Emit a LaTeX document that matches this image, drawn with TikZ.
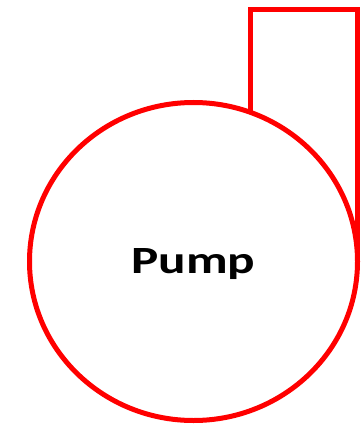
\documentclass[tikz,border=0pt]{standalone}
\usepackage{fontspec}
\setmainfont{Carlito}
\usetikzlibrary{shapes.geometric}

\begin{document}
\begin{tikzpicture}[
    x=1pt, y=-1pt,
    pumpbody/.style={
        ellipse,
        draw=red,
        line width=5pt,
        minimum width=328pt,
        minimum height=318pt,
        inner sep=0pt,
        outer sep=0pt,
        font=\fontsize{40}{40}\selectfont\bfseries,
        text height=35pt,
        text depth=12pt
    },
    pipe/.style={draw=red, line width=5pt}
]

\useasboundingbox (0,0) rectangle (361,425);

% Pump casing
\node[pumpbody] (pump) at (193.5,261.5) {\resizebox{124pt}{25pt}{Pump}};

% Outlet
\coordinate (outlet) at (357.5,9.5);
\draw[pipe] (pump.69.65) |- (outlet) -- (pump.east);

\end{tikzpicture}
\end{document}
